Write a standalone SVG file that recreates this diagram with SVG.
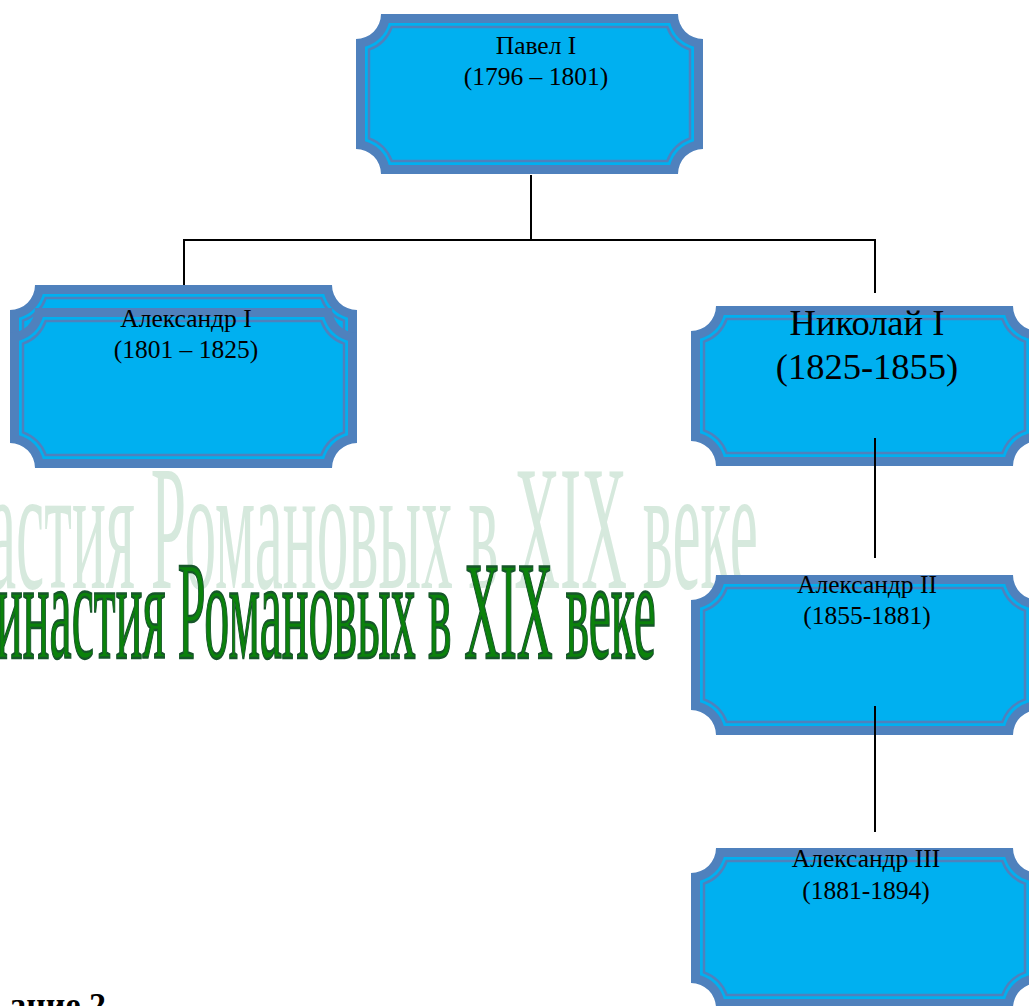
<svg xmlns="http://www.w3.org/2000/svg" xmlns:xlink="http://www.w3.org/1999/xlink" width="1029" height="1006" viewBox="0 0 1029 1006">
<style>
.t{font-family:"Liberation Serif","Times New Roman",serif;fill:#000;text-anchor:middle}
.s26{font-size:25.5px}
.s36{font-size:36.5px}
.conn{stroke:#000;stroke-width:2;fill:none}
.outer{fill:#4F81BD}
.inner{fill:#00B0F0}
.line{fill:none;stroke:#4F81BD;stroke-width:2.5}
.ghost{font-family:"Liberation Serif","Times New Roman",serif;font-size:178px;fill:#D6E9DD}
.title{font-family:"Liberation Serif","Times New Roman",serif;font-size:140px;fill:#0B820B;stroke:#16562A;stroke-width:1.8;vector-effect:non-scaling-stroke}
</style>
<defs>
<g id="plaque">
<path class="outer" d="M25,0 H322 A25,25 0 0 0 347,25 V135 A25,25 0 0 0 322,160 H25 A25,25 0 0 0 0,135 V25 A25,25 0 0 0 25,0 Z"/>
<path class="inner" d="M32.8,9 H314.2 A34,34 0 0 0 338,32.8 V127.2 A34,34 0 0 0 314.2,151 H32.8 A34,34 0 0 0 9,127.2 V32.8 A34,34 0 0 0 32.8,9 Z"/>
<path class="line" d="M35.7,13 H311.3 A38,38 0 0 0 334,35.7 V124.3 A38,38 0 0 0 311.3,147 H35.7 A38,38 0 0 0 13,124.3 V35.7 A38,38 0 0 0 35.7,13 Z"/>
</g>
</defs>
<rect width="1029" height="1006" fill="#fff"/>
<text class="ghost" transform="scale(0.355,1)" x="-34" y="588" textLength="2169" lengthAdjust="spacingAndGlyphs">астия Романовых в XIX веке</text>
<g id="pavel1">
<use xlink:href="#plaque" href="#plaque" x="356" y="14"/>
<text class="t s26" x="536" y="54">Павел I</text>
<text class="t s26" x="536" y="85">(1796 – 1801)</text>
</g>
<g id="alexander1">
<use xlink:href="#plaque" href="#plaque" x="10" y="285"/>
<use xlink:href="#plaque" href="#plaque" x="10" y="308"/>
<text class="t s26" x="186" y="327">Александр I</text>
<text class="t s26" x="186" y="358">(1801 – 1825)</text>
</g>
<g id="nikolai1">
<use xlink:href="#plaque" href="#plaque" x="691" y="306"/>
<text class="t s36" x="867" y="335">Николай I</text>
<text class="t s36" x="867" y="379">(1825-1855)</text>
</g>
<g id="alexander2">
<use xlink:href="#plaque" href="#plaque" x="691" y="575"/>
<text class="t s26" x="867" y="593">Александр II</text>
<text class="t s26" x="867" y="624">(1855-1881)</text>
</g>
<g id="alexander3">
<use xlink:href="#plaque" href="#plaque" x="691" y="848"/>
<text class="t s26" x="866" y="867">Александр III</text>
<text class="t s26" x="866" y="899">(1881-1894)</text>
</g>
<g id="connectors">
<path class="conn" d="M531,175 V240"/>
<path class="conn" d="M183,240 H876"/>
<path class="conn" d="M184,240 V285"/>
<path class="conn" d="M875,240 V293"/>
<path class="conn" d="M875,438 V558"/>
<path class="conn" d="M875,706 V832"/>
</g>
<text class="title" transform="scale(0.3575,1)" x="-11" y="658" textLength="1846" lengthAdjust="spacingAndGlyphs">инастия Романовых в XIX веке</text>
<text x="106" y="1016" style="font-family:'Liberation Serif','Times New Roman',serif;font-size:34px;font-weight:bold;text-anchor:end">ание 2</text>
</svg>
